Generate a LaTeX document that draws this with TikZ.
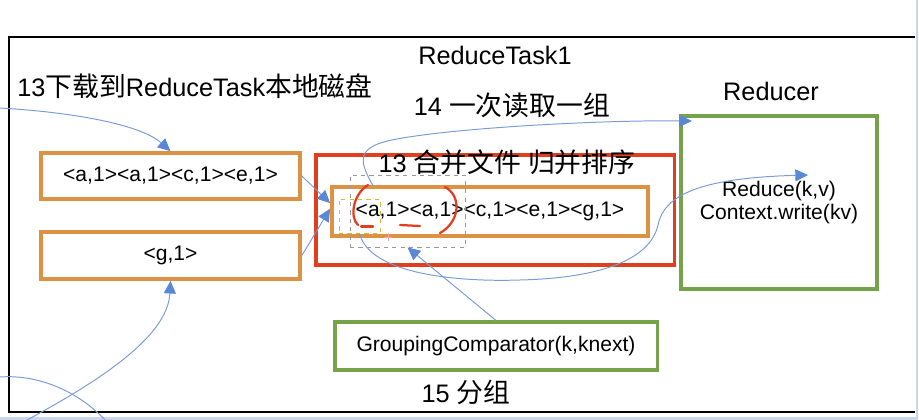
\documentclass[tikz,border=0pt]{standalone}
\usepackage{fontspec}
\setmainfont{Liberation Sans}
\newfontfamily\cjk[Scale=1.06]{Noto Sans CJK SC}
\newcommand{\zh}[1]{{\cjk #1}}
\usetikzlibrary{arrows.meta}

\definecolor{boxorange}{HTML}{DD9243}
\definecolor{boxred}{HTML}{E03E1D}
\definecolor{boxgreen}{HTML}{77A24C}
\definecolor{lineblue}{HTML}{7C9CD6}
\definecolor{headblue}{HTML}{5A88D6}
\definecolor{frameblue}{HTML}{C9D6EE}
\definecolor{cursoryellow}{HTML}{CDBB3A}
\definecolor{plusred}{HTML}{F2A3A3}

\tikzset{
  lbl/.style={font=\fontsize{18}{21}\selectfont, inner sep=0pt},
  kvbox/.style={draw=boxorange, line width=2.6pt, inner sep=0pt,
    font=\fontsize{15}{17}\selectfont},
  mergebox/.style={draw=boxred, line width=2.2pt, inner sep=0pt},
  grpbox/.style={draw=boxgreen, line width=2.2pt, inner sep=0pt,
    font=\fontsize{15}{16.5}\selectfont},
  flow/.style={draw=lineblue, line width=0.7pt,
    -{Triangle[length=9pt, width=8.5pt, color=headblue]}},
  hand/.style={draw=boxred, line width=1.6pt, line cap=round},
}

\begin{document}
\begin{tikzpicture}[x=0.025cm, y=-0.025cm]
    \useasboundingbox (0,0) rectangle (919,420);

    % ReduceTask1 外框
    \draw[line width=2.1pt] (915,37) -- (9,37) -- (9,412) -- (915,412);
    \draw[frameblue, line width=1.5pt] (917,0) -- (917,420);
    \draw[frameblue, line width=1.5pt] (0,418.5) -- (917,418.5);

    % 合并区与各个框
    \node[mergebox, minimum width=8.95cm, minimum height=2.75cm] (merge) at (495,210) {};
    \node[kvbox, minimum width=6.475cm, minimum height=1.15cm] (kv1) at (170.5,176) {<a,1><a,1><c,1><e,1>};
    \node[kvbox, minimum width=6.475cm, minimum height=1.175cm] (kv2) at (170.5,255.5) {<g,1>};
    \node[kvbox, minimum width=7.9cm, minimum height=1.225cm] (merged) at (490,211.5) {<a,1><a,1><c,1><e,1><g,1>};
    \node[grpbox, minimum width=4.9cm, minimum height=4.325cm, align=center] (reducer) at (779,202.5) {Reduce(k,v)\\Context.write(kv)};
    \node[grpbox, minimum width=8.05cm, minimum height=1.2cm] (grouping) at (496,346) {GroupingComparator(k,knext)};

    % 虚线选框
    \node[draw=gray!80, dashed, line width=0.6pt, inner sep=0pt, minimum width=2.875cm, minimum height=1.8cm] (window) at (407.5,211) {};
    \node[draw=cursoryellow, dashed, line width=0.6pt, inner sep=0pt, minimum width=1.025cm, minimum height=0.85cm] (cursor) at (359.5,216) {};

    % 文字
    \node[lbl] (title) at (495,55) {ReduceTask1};
    \node[lbl, anchor=west] (download) at (17,86) {13\zh{下载到}ReduceTask\zh{本地磁盘}};
    \node[lbl] (readgroup) at (512,105) {14 \zh{一次读取一组}};
    \node[lbl] (reducerlbl) at (771,91) {Reducer};
    \node[lbl] (mergesort) at (507,162) {13 \zh{合并文件} \zh{归并排序}};
    \node[lbl] (group) at (466,392) {15 \zh{分组}};

    % 连线的自由端
    \coordinate (inleft) at (0,108);
    \coordinate (inbottom) at (27,420);
    \coordinate (arcstart) at (0,377);
    \coordinate (arcend) at (105,420);
    \coordinate (readstart) at (373,186);
    \coordinate (readend) at (692,121);
    \coordinate (reduceend) at (808,175);

    % 箭头
    \draw[flow] (inleft) .. controls (70,112) and (140,124) .. (kv1.north);
    \draw[flow] (inbottom) .. controls (120,370) and (168,330) .. (kv2.south);
    \draw[lineblue, line width=0.7pt] (arcstart) .. controls (40,374) and (80,393) .. (arcend);
    \draw[flow] (kv1.east) -- (merged.177);
    \draw[flow] (kv2.east) -- (merged.179);
    \draw[flow] (readstart) .. controls (362,165) and (352,148) .. (392,140)
        .. controls (450,128) and (600,120) .. (readend);
    \draw[flow] (cursor.south) .. controls (370,275) and (460,282) .. (520,280)
        .. controls (600,278) and (650,260) .. (658,225)
        .. controls (664,195) and (700,178) .. (reduceend);
    \draw[flow] (grouping.north) -- (window.south);

    % 手写红色标记
    \draw[hand] (368,185) .. controls (352,195) and (350,218) .. (358,225);
    \draw[hand] (445,187) .. controls (462,196) and (460,222) .. (440,233);
    \draw[hand] (361,226.5) -- (373,226.5);
    \draw[hand] (400,225) -- (420,226);
    \draw[plusred, line width=0.6pt] (384,237) -- (392,237) (388,233) -- (388,241);
\end{tikzpicture}
\end{document}
